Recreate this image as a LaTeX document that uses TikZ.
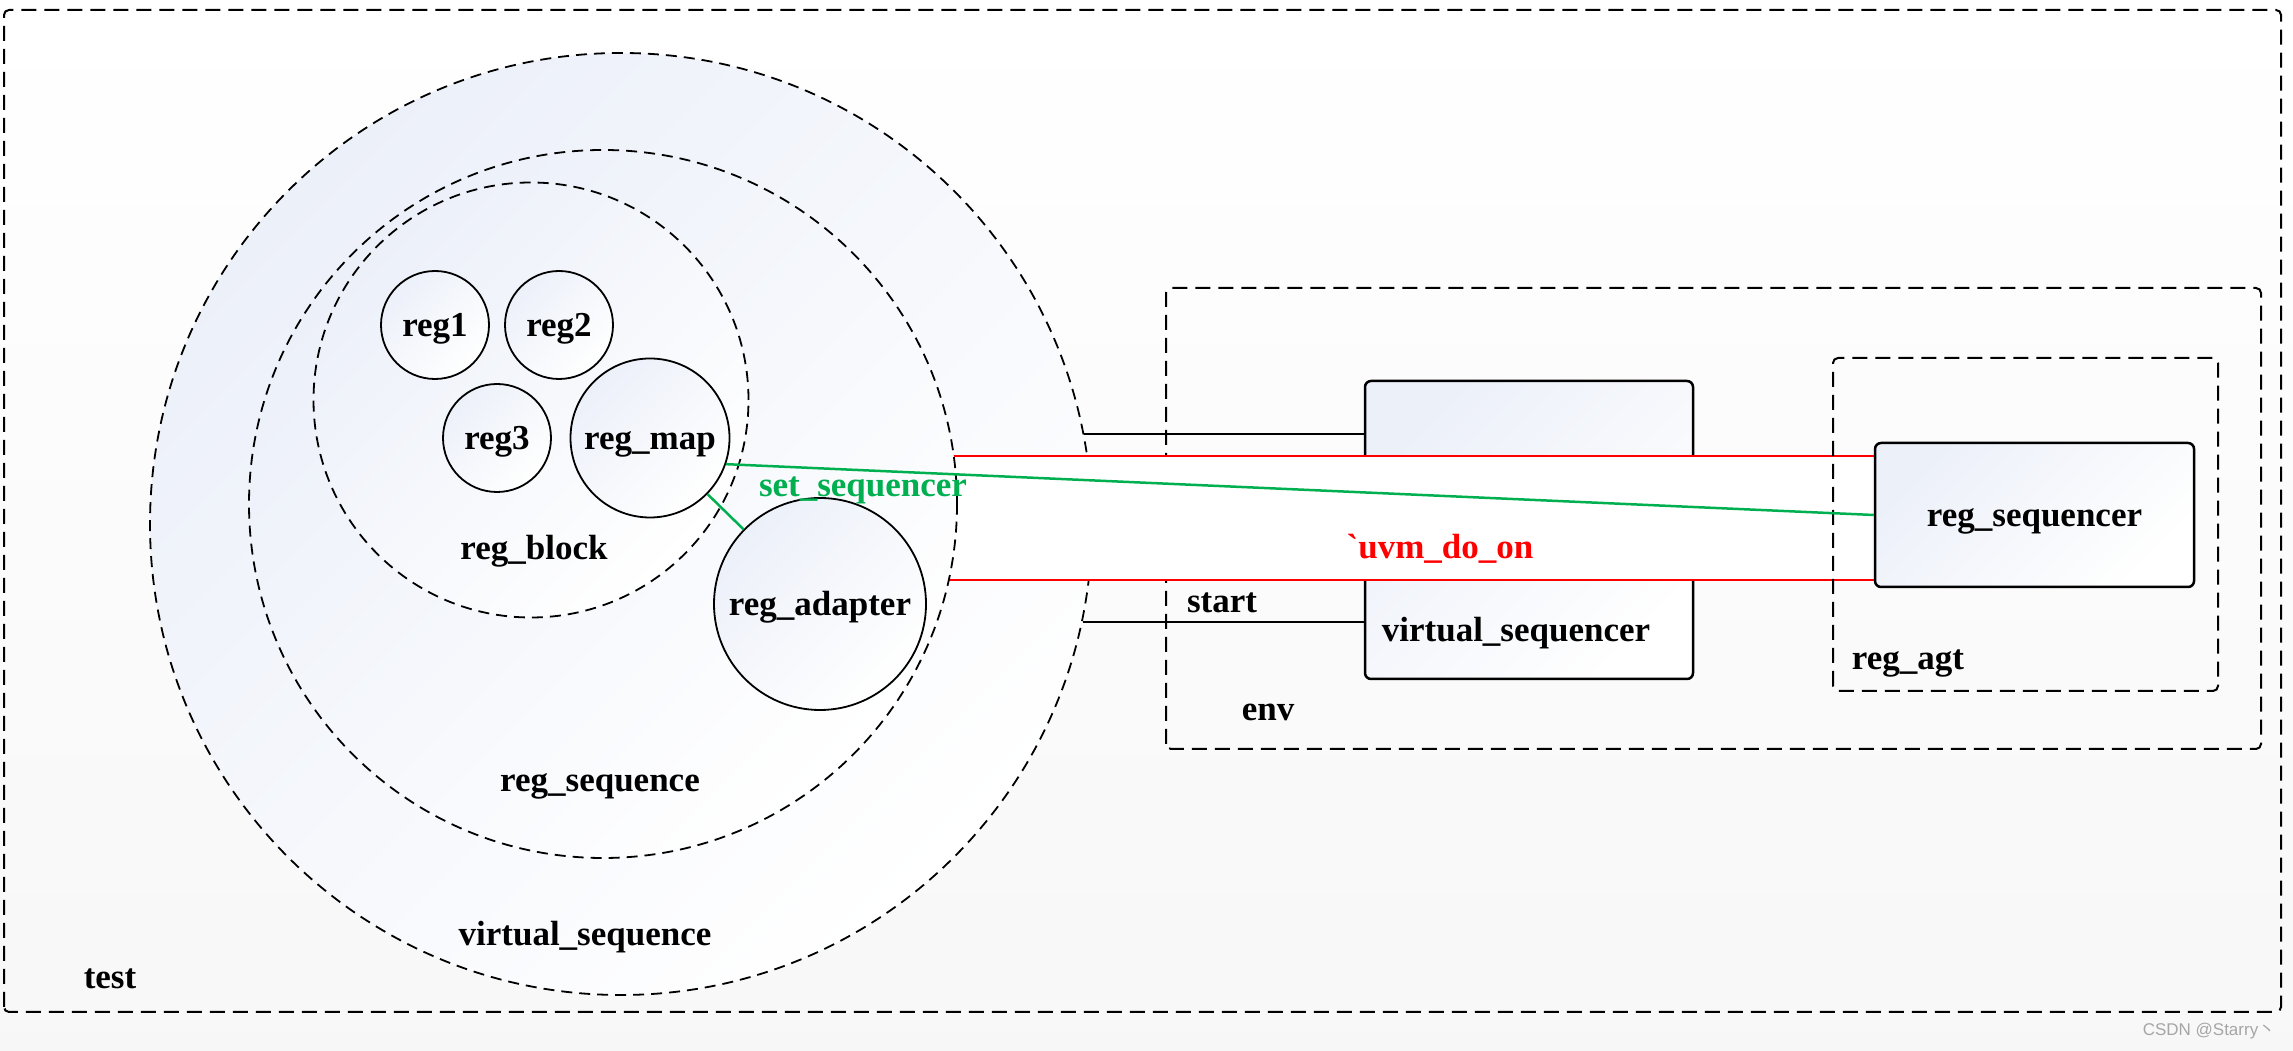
\documentclass[tikz,border=0pt]{standalone}
\usepackage{fontspec}
\setmainfont{Liberation Serif}
\setsansfont{Liberation Sans}
\newfontfamily\cjkfont{Noto Sans CJK SC}
\definecolor{bluewash}{RGB}{236,240,249}
\definecolor{setgreen}{RGB}{0,176,80}
\begin{document}
\begin{tikzpicture}[x=1pt,y=1pt,line width=2pt,
    font=\fontsize{35}{42}\selectfont\bfseries,inner sep=0pt,
    text height=31pt,text depth=7pt,
    frame/.style={dash pattern=on 15pt off 8pt,rounded corners=5pt},
    ring/.style={circle,draw,dash pattern=on 11pt off 7pt,line width=1.8pt,
      top color=bluewash,bottom color=white,shading angle=45},
    regc/.style={circle,draw,line width=1.8pt,
      top color=bluewash,bottom color=white,shading angle=45},
    block/.style={rectangle,draw,line width=2.5pt,rounded corners=6pt,
      top color=bluewash,bottom color=white,shading angle=45},
    redlink/.style={draw=red,line width=2.5pt},
    greenlink/.style={draw=setgreen,line width=2.5pt}]
    \path[use as bounding box] (0,0) rectangle (2293,1051);
    \shade[top color=white,bottom color=black!3] (0,0) rectangle (2293,1051);
    \draw[frame] (4,39) rectangle (2281,1041);
    \node (testlbl) at (110,74) {test};
    % test side
    \node[ring,minimum size=942] (vseq) at (621,527) {};
    % env side
    \draw[frame] (1166,302) rectangle (2261,763);
    \node[block,minimum width=328,minimum height=298] (vseqr) at (1529,521) {};
    \node[block,minimum width=319,minimum height=144] (regseqr) at (2034.5,536) {reg\_sequencer};
    % uvm_do_on band
    \coordinate (bandtop) at (940,595);
    \coordinate (bandbot) at (940,471);
    \fill[white] (bandbot) rectangle ([xshift=-1.5pt]bandtop -| regseqr.west);
    \draw[redlink] (bandtop) -- (bandtop -| regseqr.west);
    \draw[redlink] (bandbot) -- (bandbot -| regseqr.west);
    \node[ring,minimum size=708] (regseq) at (603,547) {};
    \node[ring,minimum size=435] (regblk) at (531,651) {};
    \foreach \n/\x/\y in {reg1/435/726,reg2/559/726,reg3/497/613}
      \node[regc,minimum size=108] (\n) at (\x,\y) {\n};
    \node[regc,minimum size=159] (regmap) at (650,613) {reg\_map};
    \node[regc,minimum size=212] (regadp) at (820,447) {reg\_adapter};
    \draw[frame] (1833,360) rectangle (2218,693);
    % links
    \draw (vseq.11.6) -- (vseq.11.6 -| vseqr.west);
    \draw (vseq.-12.75) -- (vseq.-12.75 -| vseqr.west);
    \draw[greenlink] (regmap) -- (regadp);
    \draw[greenlink] (regmap.-19) -- (regseqr.west);
    % labels
    \node (vseqlbl) at (585,117) {virtual\_sequence};
    \node (regseqlbl) at (600,271) {reg\_sequence};
    \node (blklbl) at (534,503) {reg\_block};
    \node[text=setgreen] (setlbl) at (863,566) {set\_sequencer};
    \node (envlbl) at (1268,342) {env};
    \node (vseqrlbl) at (1516,421) {virtual\_sequencer};
    \node (startlbl) at (1222,450) {start};
    \node[text=red] (uvmlbl) at (1440,504) {\textasciigrave uvm\_do\_on};
    \node (agtlbl) at (1908,393) {reg\_agt};
    \node[font=\sffamily\fontsize{17}{20}\selectfont,text=black!35,
      text height=11pt,text depth=3pt] (mark) at (2209,19)
      {CSDN @Starry{\cjkfont 丶}};
  \end{tikzpicture}
\end{document}
